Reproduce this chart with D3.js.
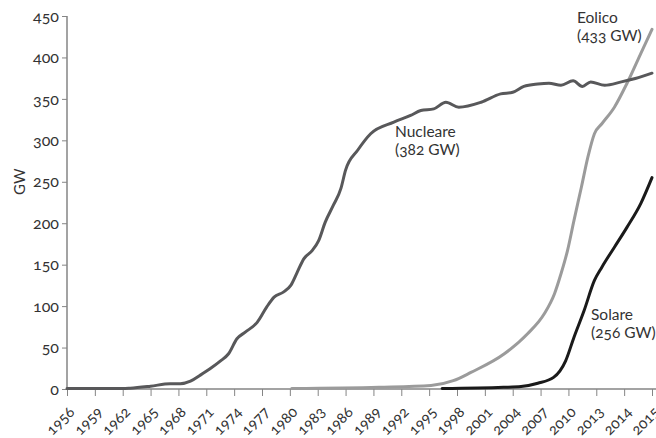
<!DOCTYPE html>
<html>
<head>
<meta charset="utf-8">
<script src="https://cdn.jsdelivr.net/npm/d3@7"></script>
<style>
  body { margin: 0; background: #fff; }
  svg text { font-family: Lato, "Open Sans", sans-serif; fill: #333; font-variant-numeric: oldstyle-nums; }
</style>
</head>
<body>
<svg width="656" height="438"></svg>
<script>
// tick labels on the bottom (evenly spaced categories, as in the original)
var tickYears = [1956, 1959, 1962, 1965, 1968, 1971, 1974, 1977, 1980, 1983, 1986,
  1989, 1992, 1995, 1998, 2001, 2004, 2007, 2010, 2013, 2014, 2015];
var yTicks = [0, 50, 100, 150, 200, 250, 300, 350, 400, 450];

// installed capacity, GW (year, value)
var nucleare = [
  [1956, 0.6], [1962, 0.6], [1962.8, 1], [1965, 3.4], [1967.1, 6.3], [1968.2, 6.3],
  [1969.3, 9.4], [1970.3, 16.3], [1971.4, 24.4], [1972.5, 33.6], [1973.4, 42.5],
  [1974.3, 60.6], [1975.2, 68.6], [1976.5, 80.7], [1977.5, 98.8], [1978.3, 110.9],
  [1979.3, 116.9], [1980.1, 125], [1980.8, 141], [1981.5, 157], [1982.4, 167],
  [1983.1, 179], [1983.8, 201], [1984.7, 222], [1985.5, 242], [1986, 264],
  [1987.3, 288], [1988.7, 308], [1991.2, 322], [1993, 330], [1994.1, 336],
  [1995.5, 338], [1996.8, 346], [1998.2, 340], [2000.6, 346], [2002.7, 356],
  [2004, 358], [2005.2, 365], [2006.7, 368], [2007.9, 369], [2009.2, 366.5],
  [2010.5, 372], [2011.5, 365], [2012.4, 370.5], [2013.3, 366.5], [2013.9, 370.5],
  [2014.4, 374.6], [2015, 381]
];
var eolico = [
  [1980.2, 0.5], [1989.6, 2], [1995.2, 4.2], [1997.6, 10], [1999.5, 20],
  [2003.1, 42.5], [2005.6, 66.7], [2007.4, 90.8], [2008.5, 115], [2009.2, 139],
  [2009.9, 167], [2010.6, 203.5], [2011.4, 243.7], [2012.1, 280], [2012.8, 308],
  [2013.2, 320], [2013.65, 340], [2014.1, 368.6], [2014.6, 405], [2015, 434]
];
var solare = [
  [1996.4, 0.5], [2003, 2], [2004.9, 3], [2006.7, 7], [2008.4, 14], [2009.7, 34],
  [2010.6, 62.5], [2011.7, 95], [2012.8, 131], [2013.2, 147], [2013.65, 171],
  [2014.1, 195], [2014.6, 224], [2015, 255]
];

var svg = d3.select("svg");
var mLeft = 67, mRight = 652, mTop = 16, mBottom = 389;

var xBand = d3.scalePoint()
  .domain(tickYears.map(String))
  .range([mLeft, mRight]);

// data year -> position along the uneven category axis
var x = d3.scaleLinear()
  .domain(tickYears)
  .range(tickYears.map(function(d) { return xBand(String(d)); }));

var y = d3.scaleLinear()
  .domain([0, 450])
  .range([mBottom, mTop]);

var axisColor = "#858585";

// y axis
var gy = svg.append("g")
  .attr("transform", "translate(" + mLeft + ",0)")
  .call(d3.axisLeft(y).tickValues(yTicks).tickSize(5).tickPadding(3).tickSizeOuter(0));
gy.select(".domain").remove();
gy.selectAll("line").attr("stroke", axisColor);
gy.selectAll("text").style("font-size", "16px").attr("fill", "#333");
svg.append("line")
  .attr("x1", mLeft).attr("x2", mLeft)
  .attr("y1", y(450)).attr("y2", mBottom)
  .attr("stroke", axisColor).attr("stroke-width", 1.5);

// x axis
var gx = svg.append("g")
  .attr("transform", "translate(0," + mBottom + ")")
  .call(d3.axisBottom(xBand).tickSize(7).tickSizeOuter(0));
gx.select(".domain").remove();
gx.selectAll("line").attr("stroke", axisColor);
gx.selectAll("text")
  .style("font-size", "15px")
  .attr("fill", "#333")
  .attr("text-anchor", "end")
  .attr("dy", null)
  .attr("y", 0)
  .attr("transform", "translate(8,24) rotate(-45)");
svg.append("line")
  .attr("x1", mLeft).attr("x2", 656)
  .attr("y1", mBottom).attr("y2", mBottom)
  .attr("stroke", axisColor).attr("stroke-width", 1.5);

svg.append("text")
  .attr("transform", "translate(25," + y(250) + ") rotate(-90)")
  .attr("text-anchor", "middle")
  .style("font-size", "15px")
  .text("GW");

var line = d3.line()
  .x(function(d) { return x(d[0]); })
  .y(function(d) { return y(d[1]); })
  .curve(d3.curveMonotoneX);

var series = [
  { data: eolico, color: "#9b9b9b" },
  { data: nucleare, color: "#58585a" },
  { data: solare, color: "#1a1a1a" }
];
svg.selectAll("path.serie")
  .data(series)
  .enter().append("path")
  .attr("class", "serie")
  .attr("d", function(d) { return line(d.data); })
  .attr("fill", "none")
  .attr("stroke", function(d) { return d.color; })
  .attr("stroke-width", 3)
  .attr("stroke-linejoin", "round")
  .attr("stroke-linecap", "round");

// series labels
var labels = [
  { lines: ["Nucleare", "(382 GW)"], x: 395, y: 137 },
  { lines: ["Eolico", "(433 GW)"], x: 577, y: 23 },
  { lines: ["Solare", "(256 GW)"], x: 591, y: 320 }
];
labels.forEach(function(l) {
  var t = svg.append("text")
    .attr("x", l.x).attr("y", l.y)
    .style("font-size", "15.5px");
  l.lines.forEach(function(s, i) {
    t.append("tspan").attr("x", l.x).attr("dy", i ? 18 : 0).text(s);
  });
});
</script>
</body>
</html>
